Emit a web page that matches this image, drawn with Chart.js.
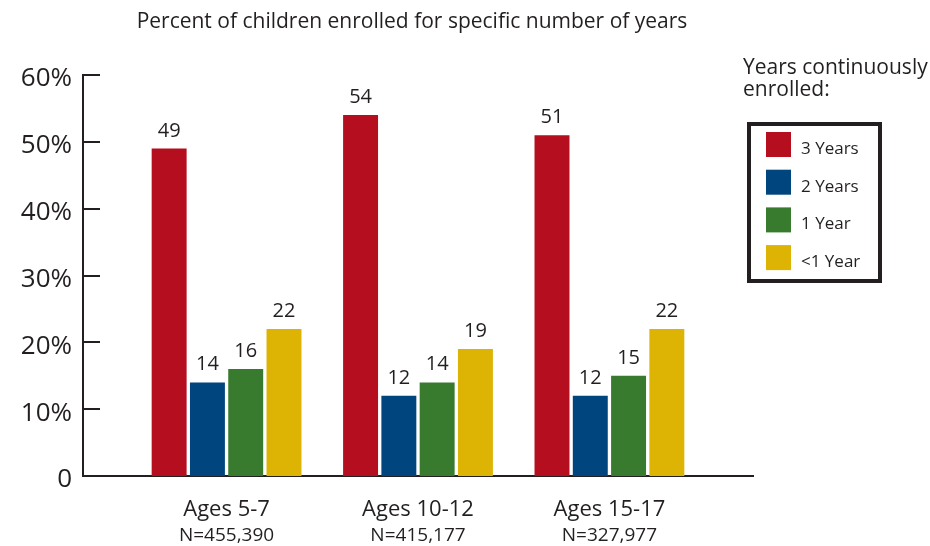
<!DOCTYPE html>
<html>
<head>
<meta charset="utf-8">
<script src="https://cdn.jsdelivr.net/npm/chart.js@4.4.0/dist/chart.umd.min.js"></script>
<style>
  html, body { margin: 0; padding: 0; background: #fff; }
  #wrap { width: 930px; height: 546px; }
</style>
</head>
<body>
<div id="wrap"><canvas id="myChart" width="930" height="546"></canvas></div>
<script>
// data
var categories = ["Ages 5-7", "Ages 10-12", "Ages 15-17"];
var sampleSizes = ["N=455,390", "N=415,177", "N=327,977"];
var seriesLabels = ["3 Years", "2 Years", "1 Year", "<1 Year"];
var threeYears = [49, 54, 51];
var twoYears = [14, 12, 12];
var oneYear = [16, 14, 15];
var underOneYear = [22, 19, 22];
var yMax = 60;
var yStep = 10;

var colors = ["#b50e1e", "#00457e", "#387b2e", "#ddb304"];
var textColor = "#231f20";
var fontName = "'Open Sans', 'Noto Sans', sans-serif";

function toPoints(values) {
    return values.map(function (v, i) { return { x: i, y: v }; });
}

var series = [threeYears, twoYears, oneYear, underOneYear];
var datasets = [];
for (var i = 0; i < series.length; i++) {
    datasets.push({
        label: seriesLabels[i],
        data: toPoints(series[i]),
        backgroundColor: colors[i],
        borderWidth: 0,
        categoryPercentage: 0.8,
        barPercentage: 0.913
    });
}

// tick marks on the inside of the y axis, value labels, N= lines, title and legend box
var extras = {
    id: "extras",
    afterDraw: function (chart) {
        var ctx = chart.ctx;
        var area = chart.chartArea;
        var yScale = chart.scales.y;
        var xScale = chart.scales.x;
        ctx.save();

        ctx.strokeStyle = textColor;
        ctx.lineWidth = 2;
        for (var v = 0; v <= yMax; v += yStep) {
            var py = Math.round(yScale.getPixelForValue(v));
            ctx.beginPath();
            ctx.moveTo(area.left, py);
            ctx.lineTo(area.left + 17, py);
            ctx.stroke();
        }

        ctx.fillStyle = textColor;
        ctx.textAlign = "center";
        ctx.textBaseline = "alphabetic";
        ctx.font = "20px " + fontName;
        chart.data.datasets.forEach(function (ds, di) {
            var meta = chart.getDatasetMeta(di);
            meta.data.forEach(function (bar, bi) {
                ctx.fillText(String(series[di][bi]), bar.x, bar.y - 12);
            });
        });

        ctx.font = "19px " + fontName;
        for (var c = 0; c < categories.length; c++) {
            ctx.fillText(sampleSizes[c], xScale.getPixelForValue(c), 541);
        }

        ctx.font = "21px " + fontName;
        ctx.fillText("Percent of children enrolled for specific number of years", 412, 28);

        // legend
        ctx.textAlign = "left";
        ctx.font = "21px " + fontName;
        ctx.fillText("Years continuously", 743, 74);
        ctx.fillText("enrolled:", 743, 96);

        ctx.lineWidth = 4;
        ctx.strokeStyle = textColor;
        ctx.strokeRect(749, 124, 131, 157);

        ctx.font = "17px " + fontName;
        ctx.textBaseline = "middle";
        chart.data.datasets.forEach(function (ds, di) {
            var top = 132 + di * 37.7;
            ctx.fillStyle = ds.backgroundColor;
            ctx.fillRect(766, top, 25, 25);
            ctx.fillStyle = textColor;
            ctx.fillText(ds.label, 801, top + 17);
        });

        ctx.restore();
    }
};

var ctx = document.getElementById("myChart").getContext("2d");
var myChart = new Chart(ctx, {
    type: "bar",
    data: { datasets: datasets },
    plugins: [extras],
    options: {
        responsive: false,
        animation: false,
        layout: { padding: { top: 75, right: 177, bottom: 0, left: 0 } },
        plugins: {
            legend: { display: false },
            tooltip: { enabled: false },
            title: { display: false }
        },
        scales: {
            x: {
                type: "linear",
                offset: false,
                min: -0.75,
                max: categories.length - 0.25,
                grid: { display: false, offset: false, drawTicks: false },
                border: { display: true, color: textColor, width: 2 },
                afterBuildTicks: function (axis) {
                    axis.ticks = categories.map(function (c, i) { return { value: i }; });
                },
                afterFit: function (axis) { axis.height = 70; },
                ticks: {
                    autoSkip: false,
                    maxRotation: 0,
                    padding: 21,
                    color: textColor,
                    font: { family: fontName, size: 22, weight: "500" },
                    callback: function (value) { return categories[value]; }
                }
            },
            y: {
                min: 0,
                max: yMax,
                grid: { display: false, drawTicks: false },
                border: { display: true, color: textColor, width: 2 },
                afterFit: function (axis) { axis.width = 83; },
                ticks: {
                    stepSize: yStep,
                    padding: 11,
                    labelOffset: 4,
                    color: textColor,
                    font: { family: fontName, size: 26 },
                    callback: function (value) { return value === 0 ? "0" : value + "%"; }
                }
            }
        }
    }
});
</script>
</body>
</html>
